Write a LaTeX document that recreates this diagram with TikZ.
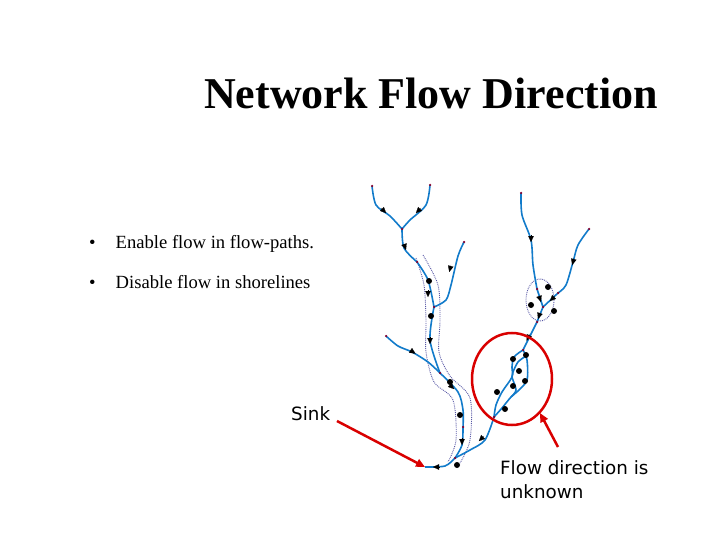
\documentclass[tikz,border=0pt]{standalone}
\usepackage{fontspec}
\setmainfont{Liberation Serif}
\setsansfont{DejaVu Sans}
\usetikzlibrary{calc,arrows.meta}
\begin{document}
\begin{tikzpicture}[x=1pt,y=-1pt,
  stream/.style={draw=cyan!60!blue, line width=1.6pt},
  arrowtip/.style={-{Triangle[length=6pt,width=5.5pt]}, black, line width=0.1pt, shorten >=-3pt},
  pt/.style={circle,fill=black,inner sep=0pt,minimum size=6pt},
  jn/.style={circle,fill=purple!70!black,inner sep=0pt,minimum size=2.5pt},
  shore/.style={draw=blue!30!gray, densely dotted, line width=0.9pt},
  redarrow/.style={draw=red!85!black, line width=2.5pt, -{Triangle[length=9pt,width=8pt]}},
  lbl/.style={font=\sffamily\fontsize{18.3}{22}\selectfont, inner sep=0pt}]
\useasboundingbox (0,0) rectangle (720,540);
\node[font=\bfseries\fontsize{44}{50}\selectfont, anchor=base, inner sep=0pt] (title) at (431,109) {Network Flow Direction};
\node[font=\fontsize{18.6}{22}\selectfont, anchor=base west, inner sep=0pt] (b1) at (89,248) {\textbullet\hspace{20pt}Enable flow in flow-paths.};
\node[font=\fontsize{18.6}{22}\selectfont, anchor=base west, inner sep=0pt] (b2) at (89,288) {\textbullet\hspace{20pt}Disable flow in shorelines};
% coordinates
\coordinate (L1) at (372,186);
\coordinate (L2) at (430,185);
\coordinate (J1) at (402,229);
\coordinate (J2) at (417,262);
\coordinate (L3) at (464,242);
\coordinate (J3) at (434,307);
\coordinate (L4) at (386,336);
\coordinate (J4) at (440,373);
\coordinate (J5) at (463,427);
\coordinate (J6) at (455,458);
\coordinate (sinkpt) at (425,467);
\coordinate (R1) at (521,193);
\coordinate (R2) at (589,229);
\coordinate (RJ1) at (537,289);
\coordinate (RJ2) at (558,293);
\coordinate (RJ3) at (543,307);
\coordinate (RJ4) at (537,322);
\coordinate (RB1) at (523,350);
\coordinate (RB2) at (512,377);
\coordinate (RB3) at (511,397);
\coordinate (RB4) at (494,417);
% shoreline dotted
\draw[shore] plot[smooth] coordinates {(416,258)(424,285)(426,320)(426,352)(434,382)(453,400)(456,440)(448,462)};
\draw[shore] plot[smooth] coordinates {(423,255)(438,285)(440,320)(439,352)(450,376)(470,398)(470,440)(460,463)};
\draw[shore] (540,300) ellipse (14 and 21);
% streams
\draw[stream] plot[smooth] coordinates {(L1)(376,205)(390,216)(J1)};
\draw[stream] plot[smooth] coordinates {(L2)(426,205)(410,220)(J1)};
\draw[stream] plot[smooth] coordinates {(J1)(404,248)(J2)};
\draw[stream] plot[smooth] coordinates {(J2)(428,280)(J3)};
\draw[stream] plot[smooth] coordinates {(L3)(458,256)(451,285)(446,300)(J3)};
\draw[stream] plot[smooth] coordinates {(J3)(430,340)(J4)};
\draw[stream] plot[smooth] coordinates {(L4)(398,346)(412,352)(428,362)(J4)};
\draw[stream] plot[smooth] coordinates {(J4)(458,392)(463,410)(J5)};
\draw[stream] plot[smooth] coordinates {(J5)(462,445)(J6)};
\draw[stream] plot[smooth] coordinates {(J6)(445,466)(sinkpt)};
\draw[stream] plot[smooth] coordinates {(R1)(522,215)(531,240)(533,265)(RJ1)};
\draw[stream] plot[smooth] coordinates {(R2)(578,245)(573,262)(566,285)(RJ2)};
\draw[stream] (RJ1) -- (RJ3);
\draw[stream] (RJ2) -- (RJ3);
\draw[stream] (RJ3) -- (RJ4);
\draw[stream] (RJ4) -- (RB1);
\draw[stream] plot[smooth] coordinates {(RB1)(514,357)(512,367)(RB2)(502,392)(496,405)(RB4)};
\draw[stream] plot[smooth] coordinates {(RB1)(527,360)(527,380)(518,391)(RB3)(502,408)(RB4)};
\draw[stream] plot[smooth] coordinates {(526,356)(518,362)(513,372)(RB2)(516,390)(RB3)};
\draw[stream] plot[smooth] coordinates {(RB4)(485,440)(470,450)(J6)};
% flow arrowheads
\foreach \a/\b in {{(381,208)}/{(384,211)},{(421,208)}/{(418,211)},{(404,244)}/{(405,247)},
  {(428,290)}/{(428,294)},{(451,265)}/{(450,269)},{(430,337)}/{(430,341)},{(410,350)}/{(413,352)},
  {(450,385)}/{(452,387)},{(462,438)}/{(462,442)},{(440,467)}/{(436,467)},{(531,235)}/{(531,239)},
  {(574,258)}/{(573,262)},{(539,296)}/{(540,299)},{(555,296)}/{(552,299)},{(540,313)}/{(539,316)},
  {(530,334)}/{(528,338)},{(484,436)}/{(481,439)}}
  {\draw[arrowtip] \a -- \b;}
% junction dots
\foreach \c in {J1,J2,J3,J4,J5,J6,RJ1,RJ2,RJ3,RJ4,RB1,RB4,L1,L2,L3,L4,R1,R2}
  \node[jn] at (\c) {};
% big dots
\foreach \p in {(429,281),(431,316),(450,382),(460,415),(457,465),(548,287),(531,305),(554,311),(526,355),(513,359),(519,371),(525,381),(513,386),(497,392),(505,409)}
  \node[pt] at \p {};
% red circle and arrows
\draw[red!85!black, line width=2.5pt] (512,379) ellipse (40 and 46);
\node[lbl, anchor=base west] (sink) at (291,420) {Sink};
\node[lbl, anchor=base west] (fd) at (500,474) {Flow direction is};
\node[lbl, anchor=base west] (fd2) at (500,498) {unknown};
\coordinate (a1s) at (337,421);
\coordinate (a2s) at (558,447);
\coordinate (a2e) at (540,413);
\draw[redarrow] (a1s) -- (sinkpt);
\draw[redarrow] (a2s) -- (a2e);
\end{tikzpicture}
\end{document}
